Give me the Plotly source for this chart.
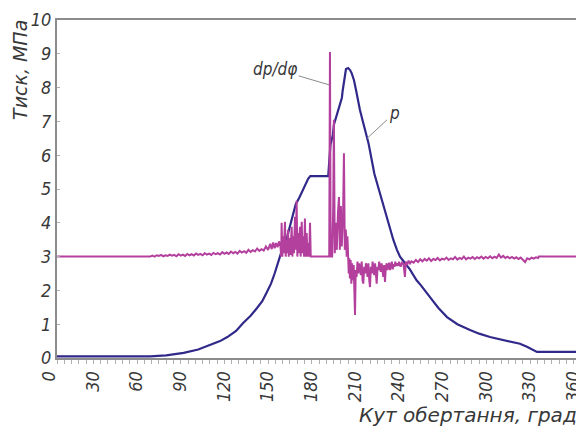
import plotly.graph_objects as go

# ---- data: pressure p (MPa) vs crank angle (deg) ----
p_angle = [0, 64, 75, 87, 97, 105, 112, 117, 123, 127.7, 133, 137.4, 141, 144.2, 147, 149.5,
           151.5, 153.5, 156, 158.2, 160, 162.2, 164, 166.5, 168.5, 170.5, 172.5, 174, 186.3,
           187.8, 189.5, 190.2, 191.6, 193, 195.7, 196.2, 197.1, 198.5, 200, 201.3, 202.4, 204,
           205.4, 206.7, 208.1, 210.2, 212, 214, 216, 218, 220, 222, 224.5, 226.6, 228.7, 231,
           233.5, 235.6, 239, 242.4, 247, 250, 256.2, 262, 267.9, 275, 283.7, 290, 297.4, 305,
           313.2, 318, 322.8, 326, 329.7, 360]
p_value = [0.05, 0.05, 0.08, 0.15, 0.25, 0.38, 0.5, 0.62, 0.8, 1.03, 1.25, 1.48, 1.68, 1.95, 2.2,
           2.5, 2.8, 3.05, 3.35, 3.6, 3.9, 4.23, 4.55, 4.75, 4.95, 5.15, 5.3, 5.38, 5.38, 6.3,
           6.6, 6.9, 7.1, 7.35, 7.7, 7.9, 8.22, 8.55, 8.58, 8.52, 8.43, 8.22, 7.93, 7.58, 7.34,
           6.98, 6.7, 6.35, 5.9, 5.45, 5.15, 4.85, 4.5, 4.17, 3.79, 3.5, 3.2, 3.0, 2.81, 2.62,
           2.3, 2.15, 1.8, 1.48, 1.21, 1.0, 0.83, 0.72, 0.62, 0.55, 0.47, 0.42, 0.33, 0.27,
           0.18, 0.18]

# ---- data: dp/dphi trace (plotted on same scale, offset baseline 3) ----
d_angle = [0, 64, 65.5, 67, 68.5, 70, 71.5, 73, 74.5, 76, 77.5, 79, 80.5, 82, 83.5, 85, 86.5, 88,
           89.5, 91, 92.5, 94, 95.5, 97, 98.5, 100, 101.5, 103, 104.5, 106, 107.5, 109, 110.5,
           112, 113.5, 115, 116.5, 118, 119.5, 121, 122.5, 124, 125.5, 127, 128.5, 130, 131.5,
           133, 134.5, 136, 137.5, 139, 140.5, 142, 143.5, 145, 146.5, 147.5, 148.5, 149.5,
           150.5, 151.5, 152.5, 153.5,
           154, 154.3, 154.8, 155.3, 155.8, 156.6, 157.1, 157.7, 158.2, 158.7, 159.2, 159.8,
           160.3, 161.2, 161.7, 162.3, 162.8, 163.5, 164.0, 164.6, 165.1, 165.7, 166.2, 166.9,
           167.4, 168.1, 168.6, 169.2, 169.7, 170.3, 170.8, 171.5, 172.0, 172.7, 173.2, 173.8,
           174.3, 174.9,
           187, 187.5, 188.0, 189.0, 189.7, 190.2, 190.8, 191.5, 192.2, 193.0, 193.7, 194.3,
           195.0, 195.6, 196.5, 197.1, 197.7, 198.4, 199.0, 199.5, 200.0,
           200.4, 200.8, 201.2, 201.7, 202.2, 202.7, 203.3, 203.8, 204.3, 204.7, 205.2, 205.8,
           206.4, 207.0, 207.6, 208.1, 208.7, 209.3, 209.9, 210.4, 211.0, 211.6, 212.2, 212.7,
           213.3, 213.9, 214.5, 215.0, 215.6, 216.2, 216.8, 217.3, 217.9, 218.5, 219.1, 219.6,
           220.2, 220.8, 221.3, 221.8, 222.4, 223.0, 223.6, 224.1, 224.7, 225.3, 225.9, 226.5,
           227.0, 227.6, 228.2, 228.8, 229.4, 230.0, 230.6, 231.2, 231.8, 232.4, 233.0, 233.6,
           234.4, 235, 236, 237, 238, 239, 239.6, 240.5, 241.5, 242.5,
           243.5, 245, 246.5, 248, 249.5, 251, 252.5, 254, 255.5, 257, 258.5, 260, 261.5, 263,
           264.5, 266, 267.5, 269, 270.5, 272, 273.5, 275, 276.5, 278, 279.5, 281, 282.5, 284,
           285.5, 287, 288.5, 290, 291.5, 293, 294.5, 296, 297.5, 299, 300.5, 302, 303.5, 305,
           306.5, 308, 309.5, 311, 312.5, 314, 315.5, 317, 318.5, 320, 321.5, 323, 324.5, 326,
           327.5, 329, 330.5, 331, 360]
d_value = [3.0, 3.0, 3.03, 3.0, 3.04, 3.02, 3.05, 3.01, 3.04, 3.02, 3.06, 3.03, 3.05, 3.01, 3.07,
           3.03, 3.06, 3.02, 3.08, 3.04, 3.07, 3.03, 3.09, 3.05, 3.08, 3.04, 3.1, 3.06, 3.09,
           3.05, 3.11, 3.07, 3.1, 3.06, 3.13, 3.08, 3.12, 3.08, 3.15, 3.1, 3.14, 3.09, 3.17,
           3.12, 3.16, 3.11, 3.2, 3.14, 3.19, 3.15, 3.24, 3.17, 3.22, 3.18, 3.3, 3.2, 3.38, 3.22,
           3.42, 3.25, 3.4, 3.28, 3.45, 3.3,
           3.0, 4.0, 3.0, 3.6, 3.1, 4.03, 3.0, 3.5, 3.1, 3.79, 3.0, 3.55, 3.05, 3.88, 3.0, 3.6,
           3.1, 4.18, 3.2, 4.65, 3.0, 3.7, 3.1, 3.88, 3.0, 4.03, 3.1, 3.6, 3.0, 4.13, 3.0, 3.7,
           3.0, 3.4, 3.0, 4.0, 3.0, 3.0,
           3.0, 9.05, 3.0, 3.0, 4.4, 7.05, 3.1, 4.0, 3.2, 4.3, 4.76, 3.2, 4.5, 3.3, 4.2, 6.06,
           3.2, 3.8, 3.0, 3.6, 3.0,
           2.5, 2.95, 2.35, 2.9, 2.2, 2.8, 2.3, 2.75, 1.9, 1.27, 2.6, 2.4, 2.85, 2.5, 2.8, 2.7,
           2.45, 2.85, 2.3, 2.2, 2.7, 2.5, 2.8, 2.73, 2.4, 2.8, 2.3, 2.1, 2.7, 2.5, 2.85, 2.7,
           2.45, 2.8, 2.35, 2.2, 2.7, 2.6, 2.85, 2.73, 2.55, 2.8, 2.45, 2.4, 2.75, 2.25, 2.7,
           2.8, 2.6, 2.73, 2.82, 2.6, 2.75, 2.85, 2.62, 2.78, 2.7, 2.85, 2.72, 2.8, 2.73, 2.85,
           2.7, 2.82, 2.78, 2.4, 2.85, 2.75, 2.88, 2.8,
           2.86, 2.82, 2.9, 2.84, 2.92, 2.86, 2.93, 2.88, 2.95, 2.87, 2.93, 2.9, 2.96, 2.89,
           2.94, 2.91, 2.97, 2.9, 2.95, 2.92, 2.99, 2.91, 2.96, 2.93, 3.0, 2.92, 2.97, 2.94,
           2.99, 2.93, 2.98, 2.95, 3.0, 2.94, 2.99, 2.95, 3.01, 2.95, 3.0, 2.96, 3.06, 2.97,
           3.02, 2.96, 3.0, 2.95, 2.99, 2.94, 2.98, 2.93, 2.97, 2.9, 2.84, 2.95, 2.92, 2.97,
           2.94, 2.98, 2.96, 3.0, 3.0]

x_ticks = list(range(0, 361, 30))
y_ticks = list(range(0, 11))

BLUE = "#30298a"
MAGENTA = "#b4409e"
AXIS = "#8c8c8c"
TXT = "#383838"
FONT = "DejaVu Sans Condensed, Liberation Sans Narrow, sans-serif"
TITLE_FONT = "DejaVu Sans, sans-serif"

fig = go.Figure()
fig.add_trace(go.Scatter(x=p_angle, y=p_value, mode="lines",
                         line=dict(color=BLUE, width=2.2), name="p"))
fig.add_trace(go.Scatter(x=d_angle, y=d_value, mode="lines",
                         line=dict(color=MAGENTA, width=2), name="dp/dφ"))

# page body has an 8px default margin, so the figure is 8px smaller
fig.update_layout(
    template="none",
    width=576, height=422,
    margin=dict(l=49, r=0, t=12, b=72, autoexpand=False),
    paper_bgcolor="white", plot_bgcolor="white",
    showlegend=False,
    font=dict(family=FONT, color=TXT),
)
fig.update_xaxes(
    automargin=False,
    range=[0, 362], tickmode="array", tickvals=x_ticks,
    ticktext=[str(v) for v in x_ticks], tickangle=-90,
    tickfont=dict(size=18, style="italic", family=FONT, color=TXT),
    ticklabeloverflow="allow",
    showgrid=False, zeroline=False,
    showline=True, linecolor=AXIS, linewidth=2, mirror=True,
    ticks="outside", ticklen=4, tickcolor="#b0b0b0", tickwidth=1,
    minor=dict(dtick=5, ticks="outside", ticklen=4, tickcolor="#b0b0b0", tickwidth=1),
    ticklabelshift=-8,
)
fig.update_yaxes(
    automargin=False,
    range=[0, 10], tickmode="array", tickvals=y_ticks,
    tickfont=dict(size=18, style="italic", family=FONT, color=TXT),
    showgrid=False, zeroline=False,
    showline=True, linecolor=AXIS, linewidth=2,
    ticks="inside", ticklen=3, tickcolor="#b0b0b0", tickwidth=1,
)

# axis titles
fig.add_annotation(text="Тиск, МПа", xref="paper", yref="paper",
                   x=-0.0702, y=1.006, xanchor="center", yanchor="top",
                   textangle=-90, showarrow=False,
                   font=dict(size=19, style="italic", family=TITLE_FONT, color=TXT))
fig.add_annotation(text="Кут обертання, град", xref="paper", yref="paper",
                   x=0.99, y=-0.169, xanchor="right", yanchor="middle",
                   showarrow=False,
                   font=dict(size=20, style="italic", family=TITLE_FONT, color=TXT))

# curve labels with leader lines
fig.add_annotation(text="dp/dφ", x=187.0, y=8.08, xref="x", yref="y",
                   ax=-54, ay=-16, showarrow=True, arrowhead=0, arrowwidth=1,
                   arrowcolor="#8a8a8a",
                   font=dict(size=17, style="italic", family=FONT, color=TXT))
fig.add_annotation(text="p", x=213.0, y=6.5, xref="x", yref="y",
                   ax=27, ay=-25, showarrow=True, arrowhead=0, arrowwidth=1,
                   arrowcolor="#8a8a8a",
                   font=dict(size=17, style="italic", family=FONT, color=TXT))

fig.write_html("out.html")
